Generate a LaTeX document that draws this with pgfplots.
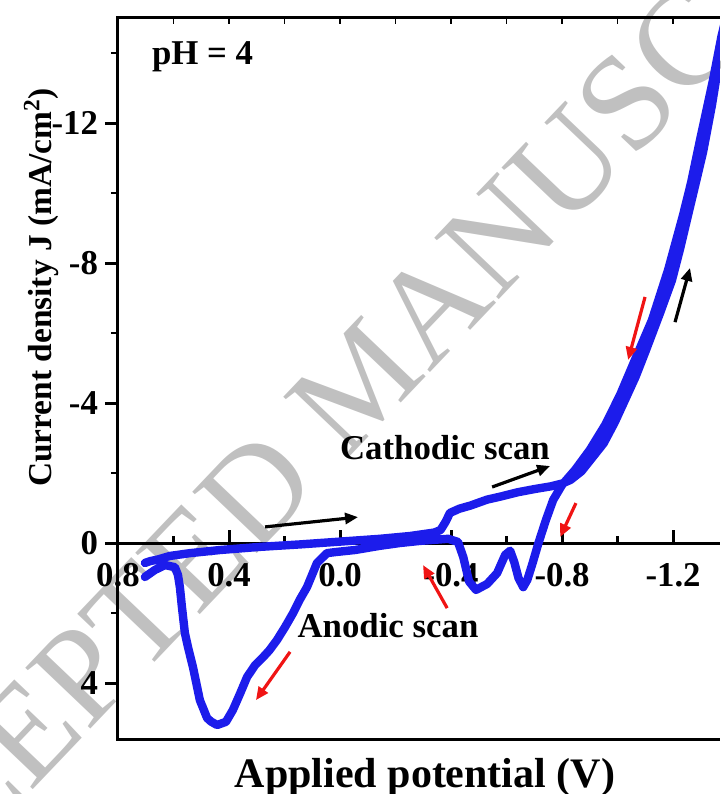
\documentclass[border=0pt]{standalone}
\usepackage{pgfplots}
\pgfplotsset{compat=1.18}
\usepackage{fontspec}
\setmainfont{Liberation Serif}
\usetikzlibrary{arrows.meta}

\definecolor{cvblue}{RGB}{28,28,235}
\definecolor{wmgray}{RGB}{192,192,192}
\definecolor{arrred}{RGB}{240,20,20}

\pgfplotstableread{
V J
0.703 0.57
0.685 0.52
0.656 0.47
0.613 0.37
0.541 0.29
0.432 0.20
0.288 0.11
0.144 0.04
0.000 -0.04
-0.144 -0.12
-0.252 -0.20
-0.340 -0.30
-0.362 -0.37
-0.380 -0.60
-0.396 -0.86
-0.430 -0.98
-0.470 -1.07
-0.530 -1.24
-0.580 -1.33
-0.640 -1.45
-0.700 -1.54
-0.760 -1.62
-0.800 -1.70
-0.830 -1.80
-0.870 -2.05
-0.910 -2.45
-0.950 -2.85
-0.990 -3.45
-1.027 -4.09
-1.065 -4.75
-1.100 -5.46
-1.153 -6.57
-1.196 -7.51
-1.225 -8.40
-1.254 -9.37
-1.282 -10.30
-1.308 -11.17
-1.340 -12.51
-1.360 -13.50
-1.369 -13.94
-1.400 -15.30
-1.375 -14.50
-1.344 -13.23
-1.297 -11.51
-1.265 -10.30
-1.236 -9.37
-1.182 -7.80
-1.124 -6.37
-1.070 -5.37
-1.009 -4.23
-0.955 -3.37
-0.900 -2.66
-0.847 -2.09
-0.800 -1.66
-0.768 -1.23
-0.742 -0.66
-0.715 0.00
-0.694 0.57
-0.675 1.05
-0.660 1.26
-0.643 1.00
-0.628 0.55
-0.613 0.22
-0.595 0.34
-0.566 0.86
-0.530 1.17
-0.490 1.34
-0.465 1.10
-0.444 0.40
-0.425 -0.03
-0.390 -0.12
-0.288 -0.06
-0.216 0.00
-0.144 0.08
-0.054 0.20
0.018 0.26
0.047 0.29
0.083 0.57
0.119 1.26
0.145 1.62
0.169 2.00
0.198 2.40
0.227 2.77
0.255 3.07
0.277 3.26
0.306 3.49
0.335 3.83
0.360 4.30
0.386 4.77
0.411 5.11
0.443 5.20
0.465 5.10
0.479 5.00
0.505 4.49
0.530 3.54
0.547 3.00
0.559 2.57
0.570 1.80
0.577 1.26
0.584 0.91
0.595 0.69
0.631 0.63
0.667 0.77
0.703 0.97
}\cvdata

\tikzset{
  lbl/.style={font=\fontsize{17.4}{20}\selectfont\bfseries},
  scanarrow/.style={line width=1.6pt, -{Triangle[length=6.5pt,width=5.5pt]}},
}

\begin{document}
\begin{tikzpicture}
% watermark behind the plot
\node[overlay, rotate=46.4, text=wmgray, font=\fontsize{68}{70}\selectfont]
  at (122pt,179.5pt) {ACCEPTED MANUSCRIPT};
\begin{axis}[
  at={(0pt,0pt)}, anchor=south west,
  scale only axis, width=301pt, height=360.5pt,
  x dir=reverse, y dir=reverse,
  xmin=-1.369, xmax=0.8, ymin=-15, ymax=5.6,
  axis x line=middle, axis y line=left,
  axis line style={line width=1.5pt, -},
  hide obscured x ticks=false, hide obscured y ticks=false,
  xtick={-1.2,-0.8,-0.4,0,0.4,0.8},
  minor xtick={-1.0,-0.6,-0.2,0.2,0.6},
  ytick={-12,-8,-4,0,4},
  minor ytick={-14,-10,-6,-2,2},
  tick align=outside,
  major tick length=6.5pt, minor tick length=3.5pt,
  tick style={line width=1.5pt, black},
  minor tick style={line width=1.3pt},
  ticklabel style={font=\fontsize{17.4}{20}\selectfont\bfseries},
  /pgf/number format/assume math mode=true,
  xticklabel style={/pgf/number format/.cd, fixed, fixed zerofill, precision=1},
  clip mode=individual,
]
\addplot[cvblue, line width=4.2pt, line join=round, line cap=round] table[x=V, y=J] {\cvdata};
% scan direction arrows
\draw[scanarrow] (0.270,-0.46) -- (-0.065,-0.74);
\draw[scanarrow] (-0.548,-1.60) -- (-0.757,-2.20);
\draw[scanarrow] (-1.207,-6.31) -- (-1.261,-7.86);
\draw[scanarrow, arrred] (-1.099,-7.03) -- (-1.038,-5.23);
\draw[scanarrow, arrred] (-0.850,-1.14) -- (-0.793,-0.17);
\draw[scanarrow, arrred] (-0.386,1.86) -- (-0.299,0.63);
\draw[scanarrow, arrred] (0.180,3.11) -- (0.303,4.49);
\end{axis}
% top and bottom frame lines, with the small ticks under the top one
\draw[line width=1.5pt] (-0.75pt,360.5pt) -- (301pt,360.5pt);
\draw[line width=1.5pt] (-0.75pt,0pt) -- (301pt,0pt);
\foreach \xx in {27.75,55.5,83.25,111,138.75,166.5,194.25,222,249.75,277.5}
  \draw[line width=0.8pt] (\xx pt,360.5pt) -- (\xx pt,357.5pt);
\node[lbl, anchor=base west] at (13.5pt,337pt) {pH = 4};
\node[lbl, anchor=base] at (163.5pt,139.5pt) {Cathodic scan};
\node[lbl, anchor=base] at (135pt,51pt) {Anodic scan};
\node[anchor=base, font=\fontsize{21}{24}\selectfont\bfseries] at (153.5pt,-24pt) {Applied potential (V)};
\node[anchor=base, rotate=90, font=\fontsize{16.7}{20}\selectfont\bfseries] at (-33pt,225.75pt) {Current density J (mA/cm\textsuperscript{2})};
\pgfresetboundingbox
\useasboundingbox (-59pt,-27.5pt) rectangle (301pt,369.5pt);
\end{tikzpicture}
\end{document}
